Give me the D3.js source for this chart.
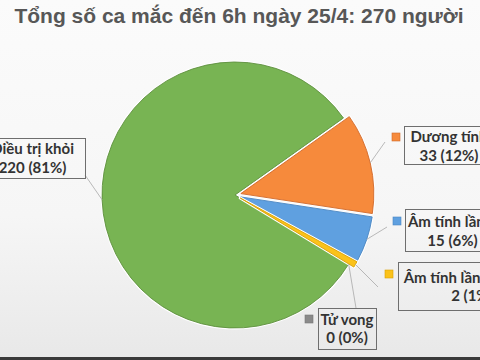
<!DOCTYPE html>
<html lang="vi">
<head>
<meta charset="utf-8"/>
<title>Tổng số ca mắc</title>
<script src="https://d3js.org/d3.v7.min.js"></script>
<style>
  body { margin: 0; background: #f5f5f5; }
  svg { display: block; }
  .title { font-family: "Liberation Sans", Arial, sans-serif; font-weight: bold; fill: #575757; }
  .lbl { font-family: Lato, "Open Sans", sans-serif; font-weight: bold; font-size: 15px; fill: #333; }
</style>
</head>
<body>
<div id="chart"></div>
<script>
// data
var categories = ["Điều trị khỏi", "Dương tính", "Âm tính lần 1", "Âm tính lần 2 trở lên", "Tử vong"];
var counts = [220, 33, 15, 2, 0];
var percents = ["81%", "12%", "6%", "1%", "0%"];
var titleText = "Tổng số ca mắc đến 6h ngày 25/4: 270 người";

var colors = ["#78b453", "#f68a3c", "#5fa0e0", "#fbc21a", "#8a8a8a"];
var strokes = ["#5c8f3c", "#d0692a", "#4a86c2", "#d9a000", "#777"];
var explode = [0, 6, 6, 6, 0];

// label boxes (layout)
var boxes = [
  {x: -20, y: 138, w: 105, h: 40, l1: 16, l2: 35, mark: null, end: [85, 175]},
  {x: 404, y: 126, w: 90, h: 38, l1: 16, l2: 35, mark: [396, 137], end: [385, 142]},
  {x: 405, y: 209, w: 95, h: 42, l1: 18, l2: 37, mark: [397, 221], end: [387, 227]},
  {x: 398, y: 262, w: 148, h: 48, l1: 21, l2: 39, mark: [389, 274], end: [378, 287]},
  {x: 318, y: 308, w: 58, h: 41, l1: 17, l2: 35, mark: [309, 319], end: [356, 308]}
];

var width = 480, height = 360;
var cx = 235, cy = 195, r = 133;

var svg = d3.select("#chart").append("svg")
  .attr("width", width)
  .attr("height", height);

var grad = svg.append("defs").append("linearGradient")
  .attr("id", "bg").attr("x1", 0).attr("y1", 0).attr("x2", 0).attr("y2", 1);
grad.append("stop").attr("offset", "0%").attr("stop-color", "#fbfbfb");
grad.append("stop").attr("offset", "60%").attr("stop-color", "#f6f6f6");
grad.append("stop").attr("offset", "100%").attr("stop-color", "#e8e8e8");

svg.append("rect").attr("width", width).attr("height", height).attr("fill", "url(#bg)");
svg.append("rect").attr("x", 0).attr("y", 357).attr("width", width).attr("height", 3).attr("fill", "#3a3a3a");

svg.append("text")
  .attr("class", "title")
  .attr("x", 239).attr("y", 23)
  .attr("text-anchor", "middle")
  .attr("font-size", 21)
  .text(titleText);

var startA = 121.3 * Math.PI / 180;
var pie = d3.pie().sort(null).startAngle(startA).endAngle(startA + 2 * Math.PI);
var arcs = pie(counts);

var arc = d3.arc().innerRadius(0).outerRadius(r);

function offset(d, i) {
  var m = (d.startAngle + d.endAngle) / 2;
  return [cx + explode[i] * Math.sin(m), cy - explode[i] * Math.cos(m)];
}

var g = svg.append("g");
var slices = g.selectAll("g.slice")
  .data(arcs)
  .enter().append("g")
  .attr("class", "slice")
  .attr("transform", function(d, i) { var o = offset(d, i); return "translate(" + o[0] + "," + o[1] + ")"; });

slices.append("path")
  .attr("d", arc)
  .attr("fill", "none")
  .attr("stroke", "#fff")
  .attr("stroke-width", function(d) { return d.value > 0 ? 3 : 0; })
  .attr("stroke-linejoin", "round");

slices.append("path")
  .attr("d", arc)
  .attr("fill", function(d, i) { return colors[i]; })
  .attr("stroke", function(d, i) { return strokes[i]; })
  .attr("stroke-width", function(d) { return d.value > 0 ? 0.9 : 0; });

// leader lines
var edge = d3.arc().innerRadius(r).outerRadius(r);
svg.append("g").selectAll("line")
  .data(arcs)
  .enter().append("line")
  .attr("x1", function(d, i) { var o = offset(d, i); var c = edge.centroid(d); return o[0] + c[0]; })
  .attr("y1", function(d, i) { var o = offset(d, i); var c = edge.centroid(d); return o[1] + c[1]; })
  .attr("x2", function(d, i) { return boxes[i].end[0]; })
  .attr("y2", function(d, i) { return boxes[i].end[1]; })
  .attr("stroke", "#a8a8a8")
  .attr("stroke-width", 0.8);

// labels
var labels = svg.append("g").selectAll("g")
  .data(categories)
  .enter().append("g");

labels.append("rect")
  .attr("x", function(d, i) { return boxes[i].x + 0.5; })
  .attr("y", function(d, i) { return boxes[i].y + 0.5; })
  .attr("width", function(d, i) { return boxes[i].w; })
  .attr("height", function(d, i) { return boxes[i].h; })
  .attr("fill", "none")
  .attr("stroke", "#6e6e6e")
  .attr("stroke-width", 1);

labels.filter(function(d, i) { return boxes[i].mark; })
  .append("rect")
  .attr("x", function(d) { return boxes[categories.indexOf(d)].mark[0] - 4; })
  .attr("y", function(d) { return boxes[categories.indexOf(d)].mark[1] - 4; })
  .attr("width", 8).attr("height", 8)
  .attr("fill", function(d) { return colors[categories.indexOf(d)]; })
  .attr("stroke", function(d) { return strokes[categories.indexOf(d)]; })
  .attr("stroke-width", 0.6);

labels.append("text")
  .attr("class", "lbl")
  .attr("text-anchor", "middle")
  .attr("x", function(d, i) { return boxes[i].x + boxes[i].w / 2; })
  .attr("y", function(d, i) { return boxes[i].y + boxes[i].l1; })
  .text(function(d) { return d; });

labels.append("text")
  .attr("class", "lbl")
  .attr("text-anchor", "middle")
  .attr("x", function(d, i) { return boxes[i].x + boxes[i].w / 2; })
  .attr("y", function(d, i) { return boxes[i].y + boxes[i].l2; })
  .text(function(d, i) { return counts[i] + " (" + percents[i] + ")"; });
</script>
</body>
</html>
